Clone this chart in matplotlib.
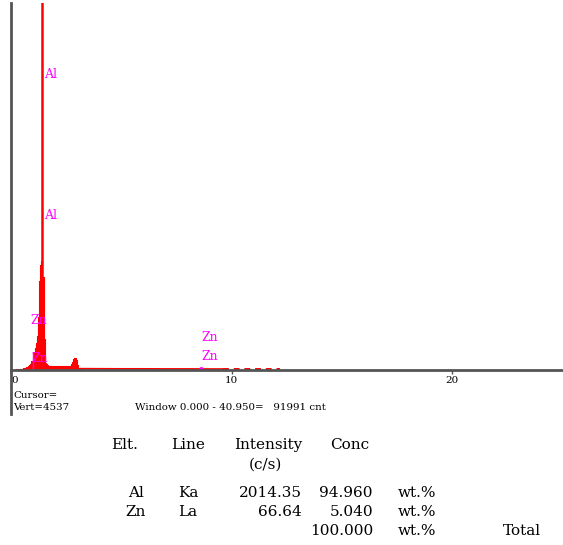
import matplotlib.pyplot as plt
from matplotlib.lines import Line2D

W, H = 563, 545

# EDS spectrum: energy (keV) and counts per channel
energy = [0.20, 0.25, 0.30, 0.35, 0.40, 0.45, 0.50, 0.55, 0.60, 0.65,
          0.70, 0.75, 0.80, 0.85, 0.90, 0.95, 1.00, 1.05, 1.10, 1.15,
          1.20, 1.25, 1.30, 1.35, 1.40, 1.45, 1.50, 1.55, 1.60, 1.65,
          1.70, 1.75, 1.80, 1.85, 1.90, 1.95, 2.00, 2.05, 2.10, 2.15,
          2.20, 2.25, 2.30, 2.35, 2.40, 2.45, 2.50, 2.55, 2.60, 2.65,
          2.70, 2.75, 2.80, 2.85, 2.90, 2.95, 3.00, 3.05, 3.10, 3.15, 3.20]
counts = [5, 8, 10, 12, 14, 15, 18, 20, 24, 28,
          33, 40, 50, 62, 80, 110, 160, 220, 270, 330,
          420, 650, 1100, 1300, 1350, 1150, 380, 90, 70, 58,
          52, 50, 48, 50, 47, 49, 46, 48, 45, 47,
          44, 46, 43, 45, 44, 46, 45, 47, 48, 50,
          55, 70, 100, 135, 150, 120, 60, 30, 22, 20, 18]

# Al Ka spike (off scale)
spike_kev = [1.42]
spike_counts = [5200]

# low background tail
tail_kev = [3.2, 4.0, 5.0, 6.0, 7.0, 8.0, 9.0, 9.6]
tail_counts = [15, 14, 13, 13, 12, 12, 11, 11]
tail2_kev = [9.6, 10.5, 11.5, 12.2]
tail2_counts = [10, 10, 10, 10]

# peak markers
zn_la_kev = 1.01
zn_la_height = 220
zn_ka_kev = 8.63

peak_names = ["Al", "Al", "Zn", "Zn", "Zn", "Zn"]
peak_x = [1.48, 1.48, 0.88, 0.92, 8.64, 8.64]
peak_y = [3659, 1916, 618, 148, 396, 161]

# quantification table
elements = ["Al", "Zn"]
lines = ["Ka", "La"]
intensity = ["2014.35", "66.64"]
conc = ["94.960", "5.040"]
total = "100.000"

MAGENTA = "#ff00ff"

fig = plt.figure(figsize=(W / 100, H / 100), dpi=100)
ax = fig.add_axes([11 / W, 1 - 370 / H, 1 - 11 / W, 367 / H])

ax.fill_between(energy, counts, step="mid", color="red", lw=0)
ax.step(energy, counts, where="mid", color="red", lw=0.8)
ax.vlines(spike_kev, 0, spike_counts, color="red", lw=1.8)
ax.plot(tail_kev, tail_counts, color="red", lw=1.4)
ax.plot(tail2_kev, tail2_counts, color="red", lw=1.4, dashes=(3, 2.5))

ax.vlines(zn_la_kev, 0, zn_la_height, color=MAGENTA, lw=1)
ax.plot([zn_ka_kev], [12], "o", color=MAGENTA, ms=2.5)

for name, x, y in zip(peak_names, peak_x, peak_y):
    ax.text(x, y, name, color=MAGENTA, fontsize=9, family="DejaVu Serif",
            ha="left", va="center")

ax.set_xlim(0, 25.03)
ax.set_ylim(0, 4537)
ax.set_yticks([])
ax.set_xticks([0, 10, 20])
ax.set_xticklabels(["0", "10", "20"], fontsize=7.5, family="DejaVu Serif")
ax.get_xticklabels()[0].set_ha("left")
ax.tick_params(axis="x", length=3, width=1, color="#555555", pad=1.5)
for s in ["top", "right"]:
    ax.spines[s].set_visible(False)
ax.spines["left"].set_color("#555555")
ax.spines["left"].set_linewidth(2)
ax.spines["bottom"].set_color("#555555")
ax.spines["bottom"].set_linewidth(2)
ax.spines["left"].set_zorder(5)

# left rule continues down past the cursor readout
fig.add_artist(Line2D([11 / W, 11 / W], [1 - 370 / H, 1 - 414 / H], color="#555555", lw=2))


def px(x, y):
    return x / W, 1 - y / H


small = dict(fontsize=7.4, family="DejaVu Serif", va="center")
fig.text(*px(13, 395), "Cursor=", ha="left", **small)
fig.text(*px(13, 408), "Vert=4537", ha="left", **small)
fig.text(*px(135, 408), "Window 0.000 - 40.950=   91991 cnt", ha="left", **small)

tab = dict(fontsize=11, family="DejaVu Serif", va="center")
fig.text(*px(111, 445), "Elt.", ha="left", **tab)
fig.text(*px(171, 445), "Line", ha="left", **tab)
fig.text(*px(302, 445), "Intensity", ha="right", **tab)
fig.text(*px(330, 445), "Conc", ha="left", **tab)
fig.text(*px(265, 465), "(c/s)", ha="center", **tab)

row_y = [493, 512]
for el, ln, it, cc, y in zip(elements, lines, intensity, conc, row_y):
    fig.text(*px(136, y), el, ha="center", **tab)
    fig.text(*px(188, y), ln, ha="center", **tab)
    fig.text(*px(302, y), it, ha="right", **tab)
    fig.text(*px(373, y), cc, ha="right", **tab)
    fig.text(*px(398, y), "wt.%", ha="left", **tab)
fig.text(*px(373, 531), total, ha="right", **tab)
fig.text(*px(398, 531), "wt.%", ha="left", **tab)
fig.text(*px(541, 531), "Total", ha="right", **tab)

fig.savefig("out.png", dpi=100)
